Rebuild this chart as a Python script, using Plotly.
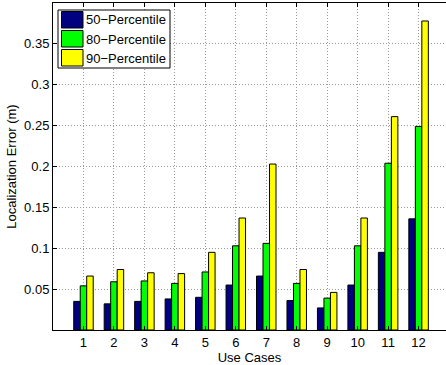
import plotly.graph_objects as go

# Use-case indices and localization error percentiles (metres)
use_cases = list(range(1, 13))
p50 = [0.035, 0.032, 0.035, 0.038, 0.040, 0.055, 0.066, 0.036, 0.027, 0.055, 0.095, 0.136]
p80 = [0.054, 0.059, 0.060, 0.057, 0.071, 0.103, 0.106, 0.057, 0.039, 0.103, 0.204, 0.249]
p90 = [0.066, 0.074, 0.070, 0.069, 0.095, 0.137, 0.203, 0.074, 0.046, 0.137, 0.261, 0.378]

series_names = ["50\u2212Percentile", "80\u2212Percentile", "90\u2212Percentile"]
series_colors = ["#000080", "#00ff00", "#ffff00"]
y_ticks = [0.05, 0.1, 0.15, 0.2, 0.25, 0.3, 0.35]
y_tick_text = ["0.05", "0.1", "0.15", "0.2", "0.25", "0.3", "0.35"]

W, H = 446, 365
ML, MR, MT, MB = 53, 0, 3, 35
FONT = "Liberation Sans, Arial, Helvetica, sans-serif"

fig = go.Figure()
for name, vals, col in zip(series_names, [p50, p80, p90], series_colors):
    fig.add_trace(go.Bar(
        x=use_cases, y=vals, name=name,
        marker=dict(color=col, line=dict(color="black", width=1)),
        showlegend=False,
    ))

# fine dotted grid
grid = dict(showgrid=True, gridcolor="#9a9a9a", griddash="1px,2px", gridwidth=1)

fig.update_layout(
    width=W, height=H,
    margin=dict(l=ML, r=MR, t=MT, b=MB),
    paper_bgcolor="white", plot_bgcolor="white",
    barmode="group", bargap=0.36, bargroupgap=0.0,
    font=dict(family=FONT, size=13, color="black"),
    xaxis=dict(
        range=[0, 12.9], tickvals=use_cases, ticktext=[str(u) for u in use_cases],
        ticks="inside", ticklen=4, tickcolor="black",
        showline=True, linecolor="black", linewidth=1, mirror="ticks",
        title=dict(text="Use Cases", standoff=0, font=dict(size=13)),
        tickfont=dict(size=13), zeroline=False, **grid,
    ),
    yaxis=dict(
        range=[0, 0.4], tickvals=y_ticks, ticktext=y_tick_text,
        ticks="inside", ticklen=4, tickcolor="black",
        showline=True, linecolor="black", linewidth=1, mirror=False,
        title=dict(text="Localization Error (m)", standoff=4, font=dict(size=13)),
        tickfont=dict(size=13), zeroline=False, **grid,
    ),
)

pw = W - ML - MR
ph = H - MT - MB


def px(x):
    return (x - ML) / pw


def py(y):
    return (H - MB - y) / ph


# Boxed legend in the upper-left corner
fig.add_shape(type="rect", xref="paper", yref="paper",
              x0=px(58), x1=px(170), y0=py(68), y1=py(10),
              line=dict(color="black", width=1), fillcolor="white", layer="above")
row_tops = [11.5, 30.5, 49.5]
for top, name, col in zip(row_tops, series_names, series_colors):
    fig.add_shape(type="rect", xref="paper", yref="paper",
                  x0=px(61.5), x1=px(83), y0=py(top + 16.5), y1=py(top),
                  line=dict(color="black", width=1), fillcolor=col, layer="above")
    fig.add_annotation(xref="paper", yref="paper", x=px(84), y=py(top + 8.5),
                       text=name, showarrow=False, xanchor="left", yanchor="middle",
                       font=dict(family=FONT, size=13, color="black"))

fig.write_html("out.html")
